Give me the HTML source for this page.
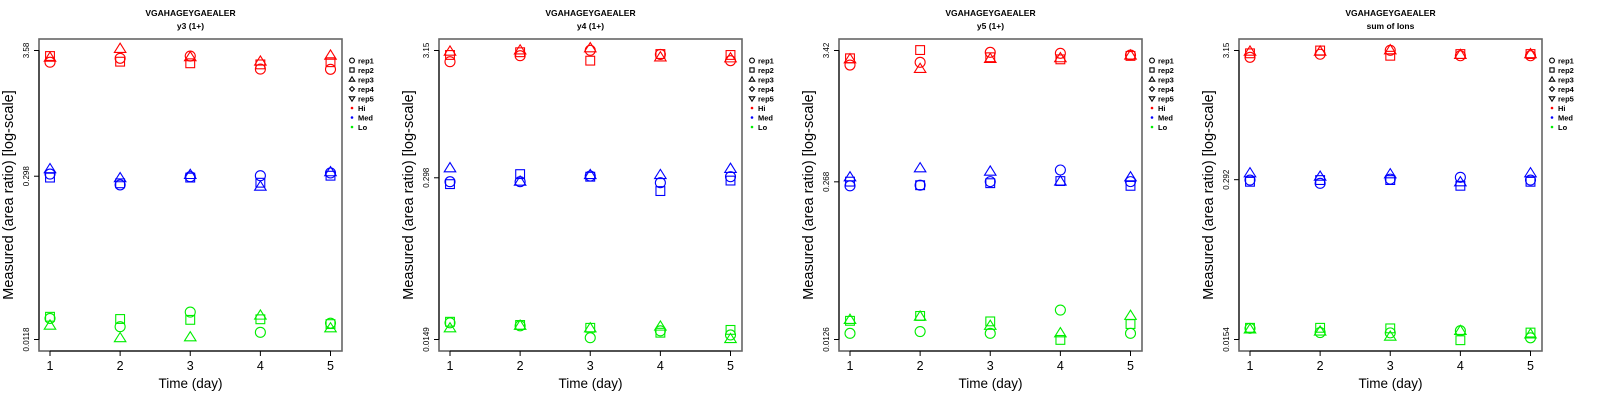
<!DOCTYPE html>
<html><head><meta charset="utf-8">
<style>
html,body{margin:0;padding:0;background:#fff;}
svg{display:block;font-family:"Liberation Sans",sans-serif;}
</style></head>
<body>
<svg id="chart" width="1600" height="400" viewBox="0 0 1600 400" xmlns="http://www.w3.org/2000/svg"></svg>
<script>
// ---- data ----
const days = [1,2,3,4,5];
const panelTitles = ["VGAHAGEYGAEALER","VGAHAGEYGAEALER","VGAHAGEYGAEALER","VGAHAGEYGAEALER"];
const panelSubtitles = ["y3 (1+)","y4 (1+)","y5 (1+)","sum of Ions"];
const yMins = [0.0118, 0.0149, 0.0126, 0.0154];
const yMaxs = [3.58, 3.15, 3.42, 3.15];
const yMidTicks = [0.298, 0.298, 0.268, 0.292];
const yTickLabels = [["0.0118","0.298","3.58"],["0.0149","0.298","3.15"],["0.0126","0.268","3.42"],["0.0154","0.292","3.15"]];
const levels = ["Hi","Med","Lo"];
const reps = ["rep1","rep2","rep3"];
// values[panel][level][rep][day]
const p1Hi  = [[2.84,3.07,3.21,2.48,2.47],[3.21,2.87,2.78,2.72,2.84],[3.10,3.69,3.13,2.87,3.23]];
const p1Med = [[0.311,0.251,0.295,0.301,0.318],[0.290,0.259,0.290,0.262,0.301],[0.342,0.286,0.305,0.242,0.322]];
const p1Lo  = [[0.0179,0.0152,0.0203,0.0136,0.0163],[0.0185,0.0177,0.0174,0.0176,0.0160],[0.0155,0.0121,0.0123,0.0189,0.0147]];
const p2Hi  = [[2.56,2.86,3.16,2.93,2.61],[2.90,3.05,2.61,2.95,2.90],[3.08,3.15,3.28,2.77,2.72]];
const p2Med = [[0.277,0.277,0.308,0.272,0.304],[0.265,0.319,0.304,0.233,0.283],[0.355,0.277,0.313,0.313,0.351]];
const p2Lo  = [[0.0203,0.0192,0.0154,0.0175,0.0162],[0.0207,0.0195,0.0185,0.0169,0.0178],[0.0183,0.0192,0.0183,0.0189,0.0150]];
const p3Hi  = [[2.58,2.72,3.30,3.24,3.13],[2.94,3.45,3.00,2.88,3.08],[2.88,2.39,2.90,2.94,3.10]];
const p3Med = [[0.248,0.251,0.269,0.337,0.269],[0.269,0.251,0.261,0.272,0.248],[0.292,0.348,0.326,0.269,0.292]];
const p3Lo  = [[0.0142,0.0147,0.0142,0.0223,0.0142],[0.0181,0.0199,0.0179,0.0125,0.0170],[0.0184,0.0196,0.0164,0.0142,0.0199]];
const p4Hi  = [[2.78,2.94,3.16,2.86,2.86],[2.99,3.15,2.86,2.95,2.95],[3.08,3.08,3.16,2.90,2.94]];
const p4Med = [[0.290,0.273,0.295,0.305,0.290],[0.281,0.290,0.290,0.261,0.281],[0.328,0.308,0.322,0.278,0.328]];
const p4Lo  = [[0.0189,0.0175,0.0174,0.0181,0.0159],[0.0191,0.0191,0.0189,0.0152,0.0175],[0.0185,0.0178,0.0162,0.0180,0.0169]];
const panelData = [[p1Hi,p1Med,p1Lo],[p2Hi,p2Med,p2Lo],[p3Hi,p3Med,p3Lo],[p4Hi,p4Med,p4Lo]];
const legendLabels = ["rep1","rep2","rep3","rep4","rep5","Hi","Med","Lo"];

// ---- drawing ----
const NS = "http://www.w3.org/2000/svg";
const svg = document.getElementById("chart");
const colors = {Hi:"#ff0000", Med:"#0000ff", Lo:"#00ee00"};
function mk(tag, attrs, parent){
  const e = document.createElementNS(NS, tag);
  for (const k in attrs) e.setAttribute(k, attrs[k]);
  (parent||svg).appendChild(e);
  return e;
}
function symbol(g, type, x, y, r, col){
  let e;
  if (type===0){ e = mk("circle",{cx:x,cy:y,r:r,fill:"none",stroke:col,"stroke-width":1.1},g); }
  else if (type===1){ e = mk("rect",{x:x-r*0.88,y:y-r*0.88,width:r*1.76,height:r*1.76,fill:"none",stroke:col,"stroke-width":1.1},g); }
  else if (type===2){ const h=r*1.15; e = mk("polygon",{points:`${x},${y-h} ${x-r*1.15},${y+h*0.6} ${x+r*1.15},${y+h*0.6}`,fill:"none",stroke:col,"stroke-width":1.1},g); }
  else if (type===3){ e = mk("polygon",{points:`${x},${y-r} ${x+r},${y} ${x},${y+r} ${x-r},${y}`,fill:"none",stroke:col,"stroke-width":1.1},g); }
  else { const h=r*1.15; e = mk("polygon",{points:`${x},${y+h} ${x-r*1.15},${y-h*0.6} ${x+r*1.15},${y-h*0.6}`,fill:"none",stroke:col,"stroke-width":1.1},g); }
  return e;
}

for (let p=0; p<4; p++){
  const ox = p*400;
  const L = ox+39, R = ox+342, T = 39, B = 351;
  const yTop = 50.5, yBot = 339.5;
  const lmin = Math.log10(yMins[p]), lmax = Math.log10(yMaxs[p]);
  const yScale = v => yBot - (Math.log10(v)-lmin)/(lmax-lmin)*(yBot-yTop);
  const xScale = d => ox+50 + (d-1)/4*280.5;
  const g = mk("g",{});
  
  

  const t1 = mk("text",{x:(L+R)/2,y:16,"text-anchor":"middle","font-size":"8.5","font-weight":"bold"},g);
  t1.textContent = panelTitles[p];
  
  
  const t2 = mk("text",{x:(L+R)/2,y:29,"text-anchor":"middle","font-size":"8.5","font-weight":"bold"},g);
  t2.textContent = panelSubtitles[p];
  
  

  const box = mk("rect",{x:L,y:T,width:R-L,height:B-T,fill:"none",stroke:"#666","stroke-width":1.6},g);
  
  

  const yax = mk("line",{x1:L,y1:yTop,x2:L,y2:yBot,stroke:"#000","stroke-width":1},g);
  
  
  const yTickVals = [yMins[p], yMidTicks[p], yMaxs[p]];
  yTickVals.forEach((v,i)=>{
    const y = yScale(v);
    mk("line",{x1:L-5,y1:y,x2:L,y2:y,stroke:"#000","stroke-width":1},g);
    const tl = mk("text",{x:0,y:0,"text-anchor":"middle","font-size":"8",transform:`translate(${ox+29},${y}) rotate(-90)`},g);
    tl.textContent = yTickLabels[p][i];
    
    
  });
  const xax = mk("line",{x1:xScale(1),y1:B,x2:xScale(5),y2:B,stroke:"#000","stroke-width":1},g);
  
  
  days.forEach(d=>{
    const x = xScale(d);
    mk("line",{x1:x,y1:B,x2:x,y2:B+5,stroke:"#000","stroke-width":1},g);
    const tl = mk("text",{x:x,y:370,"text-anchor":"middle","font-size":"12.5"},g);
    tl.textContent = d;
    
    
  });
  const xt = mk("text",{x:(L+R)/2,y:388,"text-anchor":"middle","font-size":"13.5"},g);
  xt.textContent = "Time (day)";
  
  
  const yt = mk("text",{x:0,y:0,"text-anchor":"middle","font-size":"14.5",transform:`translate(${ox+13},195) rotate(-90)`},g);
  yt.textContent = "Measured (area ratio) [log-scale]";
  
  

  levels.forEach((lv,li)=>{
    reps.forEach((rp,ri)=>{
      days.forEach((d,di)=>{
        const v = panelData[p][li][ri][di];
        const s = symbol(g, ri, xScale(d), yScale(v), 5, colors[lv]);
        
        
      });
    });
  });

  const lg = mk("g",{},g);
  
  
  legendLabels.forEach((lab,i)=>{
    const y = 60.5 + i*9.5;
    const sx = ox+352;
    if (i<5){
      symbol(lg, i, sx, y, 2.4, "#000");
    } else {
      const c = [colors.Hi,colors.Med,colors.Lo][i-5];
      mk("circle",{cx:sx,cy:y,r:1.3,fill:c},lg);
    }
    const tx = mk("text",{x:sx+6,y:y+3,"font-size":"7.5","font-weight":"bold"},lg);
    tx.textContent = lab;
    
    
  });
}
</script>
</body></html>
